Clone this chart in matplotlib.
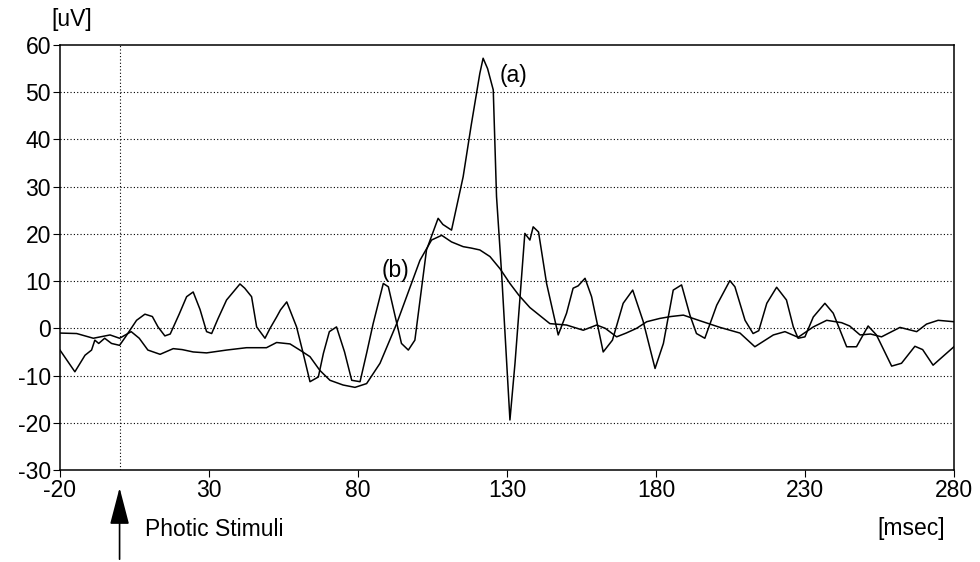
import matplotlib
matplotlib.use("Agg")
import matplotlib.pyplot as plt

# curve (a): oscillating response with large peak
a_ms = [-20, -15, -11.6, -9.4, -8.3, -7, -5, -2.7, 0, 2, 5.7, 8.5, 11, 12.9, 15.2, 17, 20,
        22.5, 24.7, 27, 29.2, 30.9, 33, 35.9, 40.4, 42, 44.3, 46, 48.8, 50.5, 52.7, 54, 56.1,
        59.4, 61.5, 63.9, 66.7, 68.4, 70.4, 72.8, 75.5, 77.9, 80.7, 83, 85.1, 88.5, 90.2, 92.5,
        94.6, 96.9, 99.1, 103, 106.9, 108.5, 111.4, 115.3, 118, 120.9, 122, 123.5, 125.4, 126.5,
        128.2, 131, 132.7, 134.4, 136, 137.7, 138.8, 140.6, 143.3, 147.2, 150, 152.2, 153.9,
        156.2, 158.4, 162.3, 165.4, 169, 172.2, 175.7, 179.7, 182.5, 185.8, 188.6, 191.4, 193.6,
        196.4, 200.4, 204.8, 206.5, 209.9, 212.6, 214.5, 217.2, 220.5, 223.8, 226.1, 227.7, 230,
        232.8, 236.7, 239.5, 244, 247.3, 251.2, 254, 259.1, 262.4, 266.9, 269.5, 273, 276.4, 280]
a_uv = [-4.6, -9.2, -5.7, -4.6, -2.5, -3.2, -2.1, -3.2, -3.6, -1.8, 1.7, 3.0, 2.5, 0.3, -1.6,
        -1.2, 3.0, 6.7, 7.7, 4.0, -0.7, -1.1, 2.0, 6.0, 9.4, 8.5, 6.7, 0.3, -2.1, 0, 2.4, 3.9,
        5.6, 0.3, -5, -11.3, -10.3, -5.3, -0.7, 0.3, -5, -11, -11.3, -5, 1.0, 9.5, 8.8, 2.5,
        -3.2, -4.6, -2.5, 16.6, 23.3, 22, 20.8, 32.1, 43, 54, 57.2, 55, 50.5, 27.9, 11.7, -19.4,
        -7.4, 6.7, 20.1, 18.7, 21.5, 20.4, 9.5, -1.4, 3.2, 8.5, 9.0, 10.6, 6.7, -5.0, -2.5, 5.3,
        8.1, 1.5, -8.5, -3.2, 8.1, 9.2, 2.8, -1.1, -2.1, 4.9, 10.1, 8.8, 1.7, -1.1, -0.5, 5.3,
        8.7, 6.0, 0.3, -2.1, -1.8, 2.4, 5.3, 3.2, -3.9, -3.9, 0.5, -1.4, -8.0, -7.4, -3.8, -4.5,
        -7.8, -5.9, -3.9]

# curve (b): smooth response
b_ms = [-20, -14.4, -8.8, -3.2, 0, 3.9, 6.6, 9.5, 13.6, 18, 21, 24.7, 29.2, 35.9, 42.6, 49.3,
        52.7, 57.2, 60.5, 63.9, 67.2, 70.6, 75, 79, 82.9, 87.4, 93, 100.8, 104.7, 108.1, 111.4,
        115.3, 118, 120.9, 124.3, 127.7, 131, 134, 137.7, 144.4, 150, 155.6, 160.1, 163, 166.8,
        170, 173.5, 176.9, 181.3, 185, 189.2, 194.8, 201.5, 208.2, 213.2, 219.4, 223.3, 227.7,
        232.8, 237.3, 242.3, 245, 248.5, 252, 255.7, 261.9, 267.5, 270.8, 274.7, 280]
b_uv = [-1.0, -1.1, -2.1, -1.4, -2.1, -0.7, -2.1, -4.6, -5.5, -4.3, -4.5, -5.0, -5.2, -4.6,
        -4.1, -4.1, -3.0, -3.3, -4.6, -6.0, -8.9, -11, -12, -12.5, -11.7, -7.4, 1.0, 14.4, 18.7,
        19.7, 18.3, 17.3, 17.0, 16.6, 15.2, 12.6, 9.5, 7.0, 4.4, 1.0, 0.7, -0.4, 0.7, 0, -1.8,
        -1.0, 0, 1.4, 2.1, 2.5, 2.8, 1.6, 0.2, -1.0, -3.9, -1.4, -0.7, -1.9, 0.3, 1.7, 1.2, 0.5,
        -1.4, -1.2, -1.8, 0.2, -0.7, 0.9, 1.7, 1.4]

x_ticks = [-20, 30, 80, 130, 180, 230, 280]
y_ticks = [-30, -20, -10, 0, 10, 20, 30, 40, 50, 60]

plt.rcParams["font.family"] = ["Liberation Sans", "DejaVu Sans"]
plt.rcParams["axes.unicode_minus"] = False
FS = 16.5

fig = plt.figure(figsize=(9.8, 5.62), dpi=100)
ax = fig.add_axes([0.0612, 0.1637, 0.9122, 0.7562])

ax.plot(a_ms, a_uv, color="black", lw=1.1)
ax.plot(b_ms, b_uv, color="black", lw=1.1)

ax.set_xlim(-20, 280)
ax.set_ylim(-30, 60)
ax.set_xticks(x_ticks)
ax.set_yticks(y_ticks)
ax.tick_params(direction="out", length=5, width=0.8, labelsize=FS, pad=1.5)

# dotted horizontal grid plus a single vertical line at stimulus onset
for yv in y_ticks[1:-1]:
    ax.axhline(yv, color="black", lw=0.8, ls=(0, (1, 2)))
ax.axvline(0, color="black", lw=0.8, ls=(0, (1, 2)))

for s in ax.spines.values():
    s.set_linewidth(1.1)

ax.text(127.5, 53.6, "(a)", fontsize=FS, va="center", ha="left")
ax.text(92.5, 12.3, "(b)", fontsize=FS, va="center", ha="center")

fig.text(0.073, 0.966, "[uV]", fontsize=FS, ha="center", va="center")
fig.text(0.93, 0.06, "[msec]", fontsize=FS, ha="center", va="center")
fig.text(0.148, 0.058, "Photic Stimuli", fontsize=FS, ha="left", va="center")

ax.annotate("", xy=(0, 0.137), xycoords=("data", "figure fraction"),
            xytext=(0, 0.0), textcoords=("data", "figure fraction"),
            arrowprops=dict(arrowstyle="-|>,head_length=1.15,head_width=0.3",
                            color="black", lw=1.2, mutation_scale=20),
            annotation_clip=False)

fig.savefig("out.png", dpi=100)
